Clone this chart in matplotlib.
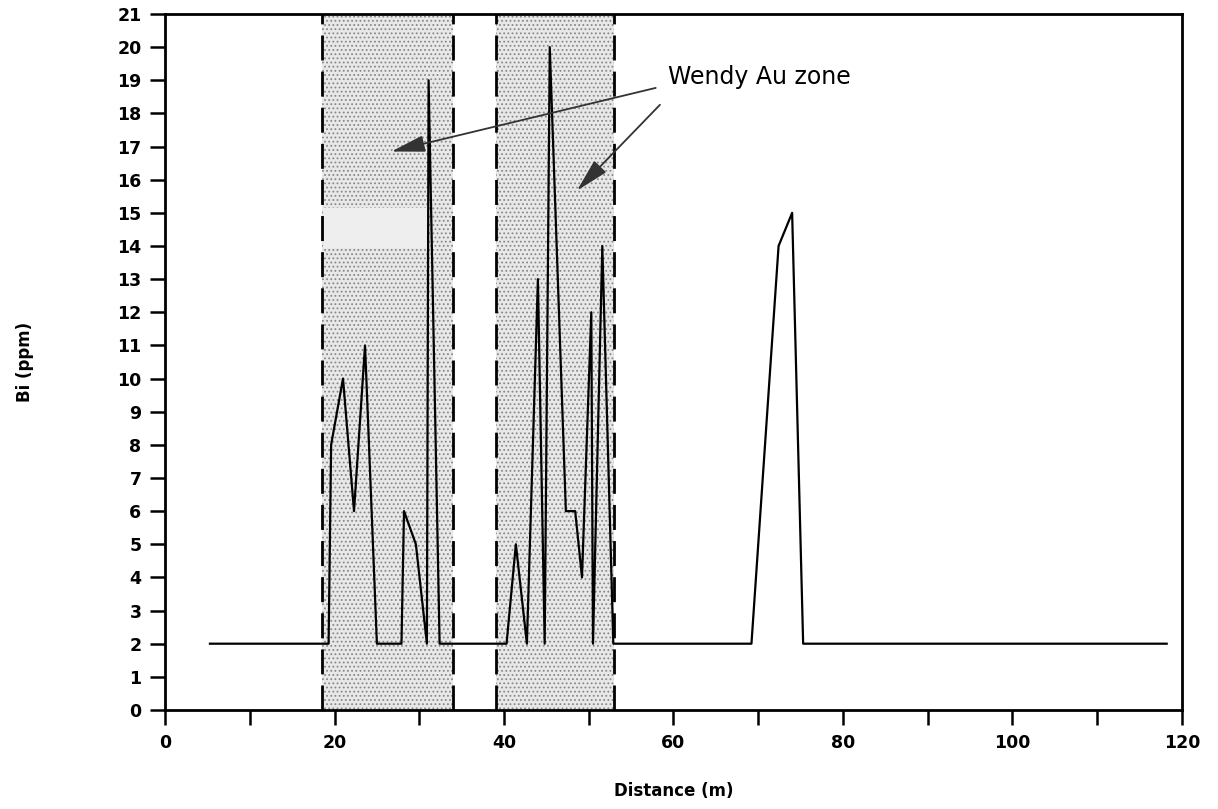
import matplotlib
matplotlib.use("Agg")
import matplotlib.pyplot as plt
from matplotlib.patches import Rectangle

# Bi assay profile along the sample line
distance = [5.3, 19.3, 19.6, 21.0, 22.3, 23.6, 25.0, 27.9, 28.2, 29.6, 30.9, 31.1, 32.4,
            40.3, 41.4, 42.7, 44.0, 44.8, 45.4, 47.3, 48.4, 49.2, 50.3, 50.5, 51.6, 52.9,
            69.2, 72.4, 74.0, 75.3, 118.2]
bi_ppm = [2, 2, 8, 10, 6, 11, 2, 2, 6, 5, 2, 19, 2,
          2, 5, 2, 13, 2, 20, 6, 6, 4, 12, 2, 14, 2,
          2, 14, 15, 2, 2]

# mineralised intervals (from, to) in metres
zones = [(18.5, 34.0), (39.0, 53.0)]
zone_label = "Wendy Au zone"
label_pos = (59.4, 19.1)
arrow_tails = [(57.9, 18.77), (58.4, 18.26)]
arrow_heads = [(26.7, 16.85), (48.6, 15.67)]

x_ticks = list(range(0, 121, 10))
x_labels = [str(t) if t % 20 == 0 else "" for t in x_ticks]
y_ticks = list(range(0, 22))

plt.rcParams["hatch.linewidth"] = 0.8

fig = plt.figure(figsize=(12.18, 8.09), dpi=100)
ax = fig.add_axes([0.1355, 0.1224, 0.8349, 0.8603])

for x0, x1 in zones:
    ax.add_patch(Rectangle((x0, 0), x1 - x0, 21, facecolor="#e8e8e8",
                           edgecolor="#888888", linewidth=0, hatch="....",
                           zorder=0))
    for xv in (x0, x1):
        ax.plot([xv, xv], [0, 21], color="black", lw=2.0,
                dashes=(9, 4), zorder=2)

# lighter band inside the first zone
ax.add_patch(Rectangle((18.6, 13.95), 12.4, 1.2, facecolor="#eeeeee",
                       edgecolor="none", zorder=1))

ax.plot(distance, bi_ppm, color="black", lw=1.6, zorder=3)

ax.text(label_pos[0], label_pos[1], zone_label, fontsize=17, ha="left",
        va="center", color="black")
for tail, head in zip(arrow_tails, arrow_heads):
    ax.annotate("", xy=head, xytext=tail,
                arrowprops=dict(arrowstyle="-|>,head_length=1.3,head_width=0.32",
                                color="#333333", lw=1.3, mutation_scale=16,
                                shrinkA=0, shrinkB=0))

ax.set_xlim(0, 120)
ax.set_ylim(0, 21)
ax.set_xticks(x_ticks)
ax.set_xticklabels(x_labels)
ax.set_yticks(y_ticks)
for sp in ax.spines.values():
    sp.set_linewidth(2.0)
ax.tick_params(axis="both", direction="out", length=11, width=1.8, pad=6,
               labelsize=12.5)
for lab in ax.get_xticklabels() + ax.get_yticklabels():
    lab.set_fontweight("bold")

ax.set_xlabel("Distance (m)", fontsize=12, fontweight="bold", labelpad=22)
ax.set_ylabel("Bi (ppm)", fontsize=12, fontweight="bold", labelpad=60)

fig.savefig("out.png", dpi=100)
